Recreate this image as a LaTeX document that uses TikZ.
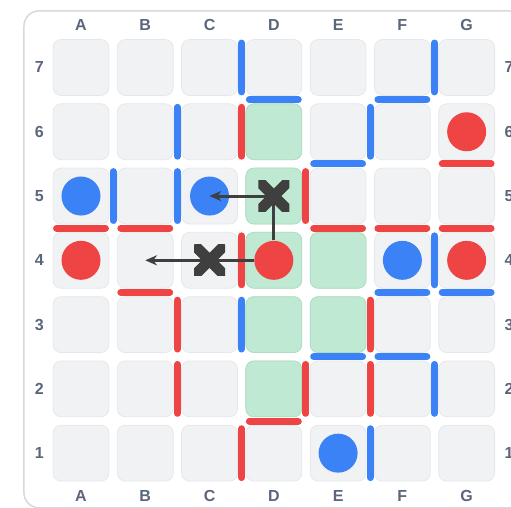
\documentclass[tikz,border=0pt]{standalone}
\usepackage{fontspec}
\setmainfont{Liberation Sans}
\usetikzlibrary{arrows.meta}

\definecolor{cellgray}{HTML}{F1F2F4}
\definecolor{celledge}{HTML}{E5E7EB}
\definecolor{goalgreen}{HTML}{BFE9D2}
\definecolor{goaledge}{HTML}{ABDEC1}
\definecolor{wallblue}{HTML}{3B82F6}
\definecolor{wallred}{HTML}{EF4444}
\definecolor{labelgray}{HTML}{5B667A}
\definecolor{movegray}{HTML}{3F3F3F}
\definecolor{boardedge}{HTML}{D6D9DE}

\begin{document}
\begin{tikzpicture}[x=1.2cm, y=1.2cm,
    cell/.style={draw=celledge, fill=cellgray, rounded corners=0.15cm,
      minimum size=1.044cm, inner sep=0, line width=0.4pt},
    goal/.style={cell, draw=goaledge, fill=goalgreen},
    wall/.style={line width=0.131cm, line cap=round},
    piece/.style={circle, minimum size=0.728cm, inner sep=0},
    coord/.style={font=\fontsize{8.5}{10}\selectfont\bfseries, text=labelgray},
    xmark/.style={minimum size=0.58cm, inner sep=0, path picture={
      \draw[movegray, line width=0.2cm]
        (path picture bounding box.north west) -- (path picture bounding box.south east)
        (path picture bounding box.north east) -- (path picture bounding box.south west);}},
    move/.style={movegray, line width=0.056cm},
    >={Stealth[length=0.22cm, width=0.19cm]}
  ]
    \useasboundingbox (-0.26,0.156) rectangle (7.69,8.05);
    \draw[boardedge, line width=0.8pt, rounded corners=0.28cm]
      (0.113,0.15) rectangle (7.89,7.88);

    \foreach \c [count=\i] in {A,B,C,D,E,F,G} {
      \node[coord] (top\c) at (\i,7.66) {\c};
      \node[coord] (bot\c) at (\i,0.33) {\c};
      \foreach \r in {1,...,7}
        \node[cell] (\c\r) at (\i,\r) {};
    }
    \foreach \r in {1,...,7} {
      \node[coord] (left\r) at (0.35,\r) {\r};
      \node[coord] (right\r) at (7.66,\r) {\r};
    }

    \foreach \g in {D6,D5,D4,E4,D3,E3,D2}
      \node[goal] (g\g) at (\g) {};

    \foreach \x/\y in {3.5/7, 2.5/6, 1.5/5, 2.5/5, 5.5/6, 6.5/7, 6.5/4, 3.5/3, 6.5/2, 5.5/1}
      \draw[wall, wallblue] (\x,\y-0.38) -- (\x,\y+0.38);
    \foreach \x/\y in {3.5/6, 4.5/5, 3.5/4, 2.5/3, 5.5/3, 2.5/2, 4.5/2, 5.5/2, 3.5/1}
      \draw[wall, wallred] (\x,\y-0.38) -- (\x,\y+0.38);
    \foreach \x/\y in {4/6.5, 6/6.5, 5/5.5, 6/3.5, 7/3.5, 5/2.5, 6/2.5}
      \draw[wall, wallblue] (\x-0.38,\y) -- (\x+0.38,\y);
    \foreach \x/\y in {7/5.5, 1/4.5, 2/4.5, 5/4.5, 6/4.5, 7/4.5, 2/3.5, 4/1.5}
      \draw[wall, wallred] (\x-0.38,\y) -- (\x+0.38,\y);

    \foreach \p in {A5,C5,F4,E1}
      \node[piece, fill=wallblue] (b\p) at (\p) {};
    \foreach \p in {A4,D4,G6,G4}
      \node[piece, fill=wallred] (r\p) at (\p) {};

    \node[xmark] (xD5) at (D5) {};
    \node[xmark] (xC4) at (C4) {};

    \draw[move] (rD4) -- (xD5.center);
    \draw[move, ->] (xD5.center) -- (bC5.center);
    \draw[move, ->] (rD4) -- (xC4.center) -- (B4.center);
  \end{tikzpicture}
\end{document}
